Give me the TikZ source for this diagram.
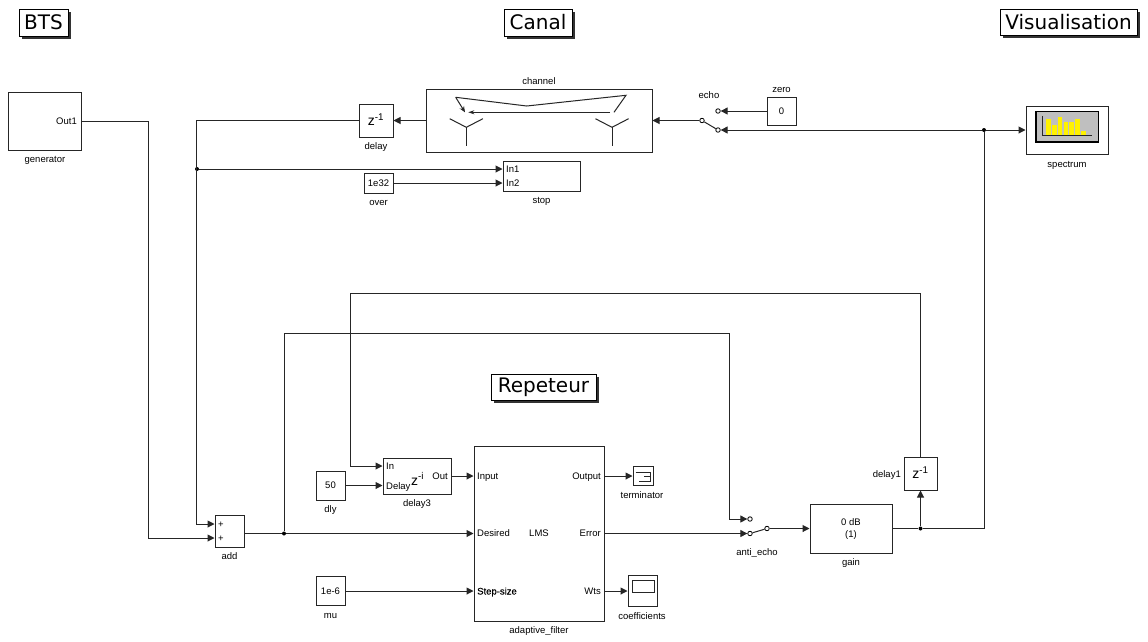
\documentclass[tikz,border=0pt]{standalone}
\usepackage{fontspec}
\setmainfont{Liberation Sans}
\newfontfamily\titlefont{DejaVu Sans}
\usetikzlibrary{calc,positioning,arrows.meta,shadows}
\begin{document}
\begin{tikzpicture}[x=1pt, y=-1pt,
  blk/.style 2 args={draw, line width=1pt, draw=black!85, fill=white, inner sep=0pt, minimum width=#1pt, minimum height=#2pt, font=\fontsize{9.5}{10}\selectfont},
  lbl/.style={inner sep=0pt, text height=8pt, text depth=1pt, font=\fontsize{9.5}{10}\selectfont},
  ttl/.style 2 args={draw, line width=.8pt, fill=white, inner sep=0pt, minimum width=#1pt, minimum height=#2pt, font=\titlefont\fontsize{20}{22}\selectfont, drop shadow={shadow xshift=2.5pt, shadow yshift=-2.5pt, opacity=1, fill=black!80}},
  zed/.style={inner sep=0pt, font=\fontsize{14}{15}\selectfont},
  wire/.style={line width=1pt, draw=black!85},
  arr/.style={line width=1pt, draw=black!85, -{Triangle[length=7pt,width=7pt]}},
  contact/.style={draw, circle, line width=.8pt, fill=white, inner sep=0pt, minimum size=4.5pt},
  jnc/.style={circle, fill=black, inner sep=0pt, minimum size=4pt}]
\useasboundingbox (0,0) rectangle (1148,641);

\node[ttl={49}{27}] (tBTS) at (43.5,22.5) {BTS};
\node[ttl={68}{27}] (tCanal) at (538,22.5) {Canal};
\node[ttl={137}{26}] (tVisu) at (1068.5,22) {Visualisation};
\node[ttl={105}{26}] (tRep) at (543.5,387) {Repeteur};

% top row
\node[blk={73}{58}] (gen) at (44.5,121) {};
\node[lbl, anchor=east] (genOut) at (77,121) {Out1};
\node[lbl] (genL) at (45,159) {generator};
\node[blk={34}{33}] (delay) at (376,120.5) {};
\node[zed] (delayZ) at (376,120) {z\textsuperscript{-1}};
\node[lbl] (delayL) at (376,146) {delay};
\node[blk={226}{63}] (chan) at (539,120.5) {};
\node[lbl] (chanL) at (539,81) {channel};
\node[blk={29}{28}] (zero) at (781.5,111) {0};
\node[lbl] (zeroL) at (781.5,89) {zero};
\node[lbl] (echoL) at (709,95) {echo};
\node[contact] (echoA) at (718,111) {};
\node[contact] (echoB) at (718,130) {};
\node[contact] (echoC) at (702,120.5) {};
\node[blk={82}{48}] (spec) at (1067,130) {};
\node[lbl] (specL) at (1067,164) {spectrum};
\node[blk={77}{30}] (stop) at (541.5,176) {};
\node[lbl, anchor=west] (stopA) at (506,169) {In1};
\node[lbl, anchor=west] (stopB) at (506,183) {In2};
\node[lbl] (stopL) at (541.5,200) {stop};
\node[blk={29}{20}] (over) at (378.5,183) {1e32};
\node[lbl] (overL) at (378.5,202) {over};

% bottom row
\node[blk={29}{32}] (add) at (229.5,531) {};
\node[lbl] (addA) at (221,524) {+};
\node[lbl] (addB) at (221,538) {+};
\node[lbl] (addL) at (229.5,556) {add};
\node[blk={29}{29}] (dly) at (330.5,485.5) {50};
\node[lbl] (dlyL) at (330.5,509) {dly};
\node[blk={68}{36}] (del3) at (417,476) {};
\node[lbl, anchor=west] (del3A) at (386,466) {In};
\node[lbl, anchor=west] (del3B) at (386,485.5) {Delay};
\node[lbl, anchor=east] (del3O) at (448,476) {Out};
\node[zed] (del3Z) at (417.5,479) {z\textsuperscript{-i}};
\node[lbl] (del3L) at (417,503) {delay3};
\node[blk={29}{29}] (mu) at (330.5,591) {1e-6};
\node[lbl] (muL) at (330.5,615) {mu};
\node[blk={130}{175}] (lms) at (539,533.5) {};
\node[lbl, anchor=west] (lmsA) at (477,476) {Input};
\node[lbl, anchor=west] (lmsB) at (477,533) {Desired};
\node[lbl, anchor=west, font=\fontsize{9.5}{10}\selectfont\addfontfeature{FakeBold=0.6}] (lmsC) at (477,591) {Step-size};
\node[lbl] (lmsM) at (539,533) {LMS};
\node[lbl, anchor=east] (lmsD) at (601,476) {Output};
\node[lbl, anchor=east] (lmsE) at (601,533) {Error};
\node[lbl, anchor=east] (lmsF) at (601,591) {Wts};
\node[lbl] (lmsL) at (539,630) {adaptive\_filter};
\node[blk={20}{19}] (term) at (643,476) {};
\node[lbl] (termL) at (642,495) {terminator};
\node[blk={29}{31}] (coef) at (642.5,591) {};
\node[lbl] (coefL) at (642,616) {coefficients};
\node[contact] (antiA) at (750,519) {};
\node[contact] (antiB) at (750,533.5) {};
\node[contact] (antiC) at (767,528.5) {};
\node[lbl] (antiL) at (757,552) {anti\_echo};
\node[blk={82}{49}] (gain) at (851,528.5) {};
\node[lbl] (gainA) at (851,522) {0 dB};
\node[lbl] (gainB) at (851,534) {(1)};
\node[lbl] (gainL) at (851,562) {gain};
\node[blk={33}{33}] (dl1) at (920.5,473.5) {};
\node[zed] (dl1Z) at (920.5,473) {z\textsuperscript{-1}};
\node[lbl, anchor=east] (dl1L) at (901,474) {delay1};

\node[jnc] (jSplit) at (197,169) {};
\node[jnc] (jDes) at (284,533.5) {};
\node[jnc] (jGain) at (920.5,528.5) {};
\node[jnc] (jSpec) at (984,130) {};

\coordinate (pStopA) at (stop.west |- stopA);
\coordinate (pStopB) at (stop.west |- stopB);
\coordinate (pAddA) at (add.west |- addA);
\coordinate (pAddB) at (add.west |- addB);
\coordinate (pAddO) at (add.east |- jDes);
\coordinate (pDelA) at (del3.west |- del3A);
\coordinate (pDelB) at (del3.west |- del3B);
\coordinate (pDelO) at (del3.east |- del3O);
\coordinate (pLmsA) at (lms.west |- lmsA);
\coordinate (pLmsB) at (lms.west |- jDes);
\coordinate (pLmsC) at (lms.west |- lmsC);
\coordinate (pLmsD) at (lms.east |- lmsD);
\coordinate (pLmsE) at (lms.east |- antiB);
\coordinate (pLmsF) at (lms.east |- lmsF);

\draw[wire] (gen.east) -- ++(67,0) coordinate (gBend);
\draw[arr] (gBend) |- (pAddB);
\draw[arr] (delay.west) -- ++(-162,0) |- (pAddA);
\draw[arr] (jSplit) -- (pStopA);
\draw[arr] (over) -- (pStopB);
\draw[arr] (chan.west) -- (delay.east);
\draw[arr] (echoC.west) -- (chan.east);
\draw[wire] (echoC) -- (echoB);
\draw[arr] (zero.west) -- (echoA.east);
\draw[arr] (jSpec) -- (echoB.east);
\draw[arr] (jSpec) -- (spec.west);
\draw[wire] (gain.east) -- (jGain) -| (jSpec);
\draw[arr] (jGain) -- (dl1.south);
\draw[arr] (dl1.north) -- ++(0,-163) -- ++(-570.5,0) |- (pDelA);
\draw[arr] (dly) -- (pDelB);
\draw[arr] (pDelO) -- (pLmsA);
\draw[wire] (pAddO) -- (jDes);
\draw[arr] (jDes) -- (pLmsB);
\draw[arr] (jDes) -- ++(0,-200) -- ++(445,0) |- (antiA.west);
\draw[arr] (mu) -- (pLmsC);
\draw[arr] (pLmsD) -- (term.west);
\draw[arr] (pLmsE) -- (antiB.west);
\draw[arr] (pLmsF) -- (coef.west);
\draw[wire] (antiB) -- (antiC);
\draw[arr] (antiC.east) -- (gain.west);

% antennas inside the channel
\draw[wire, -{Stealth[length=6pt,width=5pt]}] (455.7,97.3) -- (465,112.3);
\draw[wire] (455.7,97.3) -- (526.7,106) -- (626,95.3) -- (614,112.3);
\draw[wire, -{Stealth[length=6pt,width=4pt]}] (610,112.3) -- (468.3,112.3);
\foreach \ax in {466.3,612} {
  \draw[wire] (\ax-16.6,118.7) -- (\ax,127.3) -- (\ax+16.6,118.7);
  \draw[wire] (\ax,127.3) -- (\ax,146);
}

% spectrum icon
\draw[line width=1.5pt, fill=black!25] (1036,111.5) rectangle (1098.5,142);
\foreach \bx/\bt in {1046/119.3, 1052/125, 1057.7/116.7, 1063.7/122, 1069.3/122, 1075/119.3, 1081/131}
  \fill[yellow] (\bx,\bt) rectangle (\bx+4.7,135);
\draw[wire] (1042.3,116) -- (1042.3,135.3) -- (1092.3,135.3);

% terminator and scope icons
\draw[wire] (635.5,472) -- (650,472) -- (650,481.5) -- (638.5,481.5);
\draw[wire] (644,476.5) -- (650,476.5);
\draw[wire] (632,580) rectangle (654,592);
\end{tikzpicture}
\end{document}
